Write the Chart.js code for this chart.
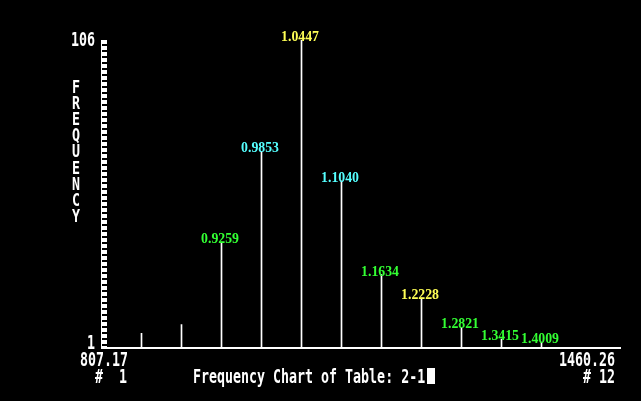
<!DOCTYPE html>
<html>
<head>
<meta charset="utf-8">
<script src="https://cdn.jsdelivr.net/npm/chart.js@4.4.0/dist/chart.umd.min.js"></script>
<style>
  body { margin: 0; background: #000; overflow: hidden; }
  canvas { display: block; }
</style>
</head>
<body>
<canvas id="freqChart" width="641" height="401"></canvas>
<script>
// data
var bins = ['1', '2', '3', '4', '5', '6', '7', '8', '9', '10', '11', '12'];
var counts = [6, 9, 37, 68, 106, 58, 26, 18, 8, 4, 3, 1];
var binLabels = ['', '', '0.9259', '0.9853', '1.0447', '1.1040', '1.1634', '1.2228', '1.2821', '1.3415', '1.4009', ''];
var labelColors = ['', '', 'g', 'c', 'y', 'c', 'g', 'y', 'g', 'g', 'g', ''];
var yTickLabels = ['1', '106'];
var xEndLabels = ['807.17', '1460.26'];
var binEndLabels = ['#  1', '# 12'];
var chartTitle = 'Frequency Chart of Table: 2-1';
var yTitle = 'FREQUENCY';

var palette = { g: '#33ff33', c: '#55ffff', y: '#ffff55' };

function dosText(ctx, txt, x, y, align, sy) {
  ctx.save();
  ctx.font = 'bold 13.3px "DejaVu Sans Mono"';
  ctx.textAlign = align;
  ctx.textBaseline = 'alphabetic';
  ctx.fillStyle = '#fff';
  ctx.translate(x, y);
  ctx.scale(1, sy || 1.45);
  ctx.fillText(txt, 0, 0);
  ctx.restore();
}

var dosAxes = {
  id: 'dosAxes',
  afterDatasetsDraw: function(chart) {
    var ctx = chart.ctx;
    var ys = chart.scales.y;
    var top = Math.round(ys.getPixelForValue(106));
    var bottom = Math.round(ys.getPixelForValue(1));

    // ladder axis
    ctx.fillStyle = '#fff';
    ctx.fillRect(101, top, 6, bottom - top);
    ctx.fillStyle = '#000';
    for (var yy = top + 4; yy < bottom - 2; yy += 6) {
      ctx.fillRect(102, yy, 5, 2);
    }
    // baseline
    ctx.fillStyle = '#fff';
    ctx.fillRect(101, bottom - 1, 520, 2);

    // value labels over the spikes
    var meta = chart.getDatasetMeta(0);
    ctx.save();
    ctx.font = 'bold 13.8px "Liberation Serif"';
    ctx.textAlign = 'center';
    ctx.textBaseline = 'alphabetic';
    meta.data.forEach(function(bar, i) {
      if (!binLabels[i]) return;
      ctx.fillStyle = palette[labelColors[i]];
      ctx.fillText(binLabels[i], Math.round(bar.x) - 2, bar.y + 1);
    });
    ctx.restore();

    // axis texts
    dosText(ctx, yTickLabels[1], 95, 46, 'right');
    dosText(ctx, yTickLabels[0], 95, 349, 'right');
    dosText(ctx, xEndLabels[0], 104, 366, 'center');
    dosText(ctx, binEndLabels[0], 127, 383, 'right');
    dosText(ctx, xEndLabels[1], 615, 366, 'right');
    dosText(ctx, binEndLabels[1], 615, 383, 'right');
    dosText(ctx, chartTitle, 193, 383, 'left');
    ctx.save();
    ctx.font = 'bold 13.3px "DejaVu Sans Mono"';
    var w = ctx.measureText(chartTitle).width;
    ctx.restore();
    ctx.fillStyle = '#fff';
    ctx.fillRect(Math.round(193 + w + 2), 368, 8, 16);

    // vertical axis title
    for (var k = 0; k < yTitle.length; k++) {
      dosText(ctx, yTitle[k], 76, 93 + k * 16.1, 'center', 1.35);
    }
  }
};

new Chart(document.getElementById('freqChart'), {
  type: 'bar',
  data: {
    labels: bins,
    datasets: [{
      data: counts,
      backgroundColor: '#fff',
      borderWidth: 0,
      barThickness: 1,
      base: 1
    }]
  },
  options: {
    responsive: false,
    animation: false,
    layout: { padding: { left: 121.5, right: 39.5, top: 40, bottom: 53 } },
    scales: {
      x: { display: false },
      y: { display: false, min: 1, max: 106 }
    },
    plugins: {
      legend: { display: false },
      tooltip: { enabled: false }
    }
  },
  plugins: [dosAxes]
});
</script>
</body>
</html>
